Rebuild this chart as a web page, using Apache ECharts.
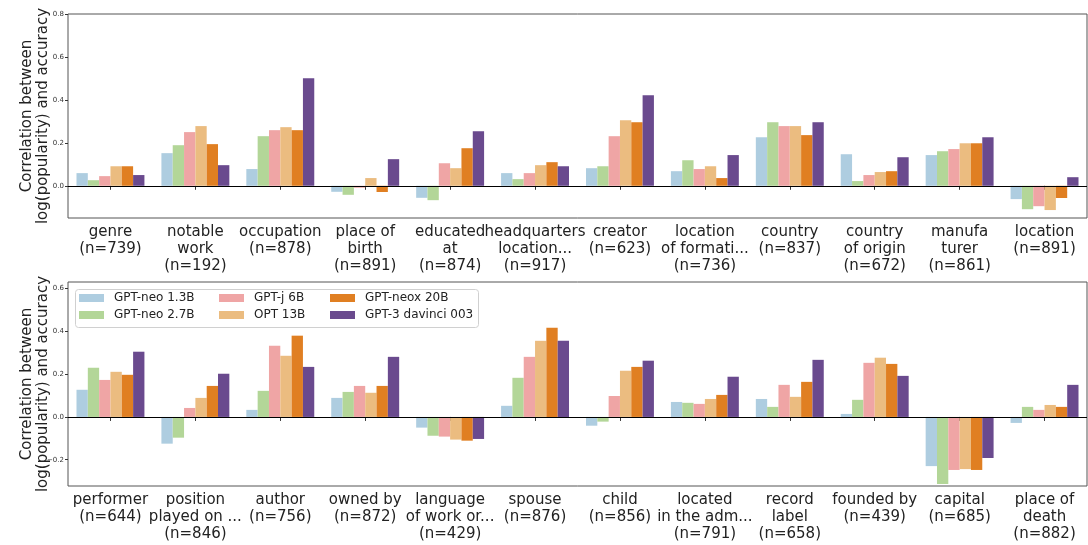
<!DOCTYPE html>
<html>
<head>
<meta charset="utf-8">
<script src="https://cdn.jsdelivr.net/npm/echarts@6/dist/echarts.min.js"></script>
<style>
  html, body { margin: 0; padding: 0; background: #fff; }
  #chart { width: 1088px; height: 545px; }
</style>
</head>
<body>
<div id="chart"></div>
<script>
// 模型名称
const models = ['GPT-neo 1.3B', 'GPT-neo 2.7B', 'GPT-j 6B', 'OPT 13B', 'GPT-neox 20B', 'GPT-3 davinci 003']
const colorList = ['#aecde0', '#b3d698', '#efa5a5', '#ebbc80', '#e07f22', '#6a4a8e']

// 上图 类别
const topCats = [
  'genre\n(n=739)', 'notable\nwork\n(n=192)', 'occupation\n(n=878)', 'place of\nbirth\n(n=891)',
  'educated\nat\n(n=874)', 'headquarters\nlocation...\n(n=917)', 'creator\n(n=623)', 'location\nof formati...\n(n=736)',
  'country\n(n=837)', 'country\nof origin\n(n=672)', 'manufa\nturer\n(n=861)', 'location\n(n=891)'
]
const topNeo13 = [0.059, 0.152, 0.078, -0.028, -0.056, 0.059, 0.082, 0.068, 0.226, 0.147, 0.143, -0.062]
const topNeo27 = [0.026, 0.189, 0.231, -0.042, -0.067, 0.031, 0.091, 0.119, 0.296, 0.022, 0.161, -0.109]
const topJ6 = [0.045, 0.250, 0.259, -0.009, 0.105, 0.059, 0.231, 0.078, 0.278, 0.050, 0.171, -0.095]
const topOpt13 = [0.091, 0.278, 0.273, 0.036, 0.082, 0.096, 0.305, 0.091, 0.278, 0.064, 0.198, -0.113]
const topNeox20 = [0.091, 0.194, 0.259, -0.029, 0.175, 0.110, 0.296, 0.036, 0.236, 0.068, 0.198, -0.057]
const topDavinci = [0.050, 0.096, 0.501, 0.124, 0.254, 0.091, 0.422, 0.143, 0.296, 0.133, 0.226, 0.040]

// 下图 类别
const botCats = [
  'performer\n(n=644)', 'position\nplayed on ...\n(n=846)', 'author\n(n=756)', 'owned by\n(n=872)',
  'language\nof work or...\n(n=429)', 'spouse\n(n=876)', 'child\n(n=856)', 'located\nin the adm...\n(n=791)',
  'record\nlabel\n(n=658)', 'founded by\n(n=439)', 'capital\n(n=685)', 'place of\ndeath\n(n=882)'
]
const botNeo13 = [0.127, -0.125, 0.033, 0.089, -0.050, 0.052, -0.041, 0.070, 0.084, 0.014, -0.230, -0.028]
const botNeo27 = [0.230, -0.097, 0.122, 0.117, -0.088, 0.183, -0.022, 0.066, 0.047, 0.080, -0.314, 0.047]
const botJ6 = [0.173, 0.042, 0.333, 0.145, -0.092, 0.281, 0.098, 0.061, 0.150, 0.253, -0.248, 0.033]
const botOpt13 = [0.211, 0.089, 0.286, 0.113, -0.106, 0.356, 0.216, 0.084, 0.094, 0.277, -0.244, 0.056]
const botNeox20 = [0.197, 0.145, 0.380, 0.145, -0.111, 0.417, 0.234, 0.103, 0.164, 0.248, -0.248, 0.047]
const botDavinci = [0.305, 0.202, 0.234, 0.281, -0.103, 0.356, 0.263, 0.188, 0.267, 0.192, -0.192, 0.150]

const topData = [topNeo13, topNeo27, topJ6, topOpt13, topNeox20, topDavinci]
const botData = [botNeo13, botNeo27, botJ6, botOpt13, botNeox20, botDavinci]

const font = 'DejaVu Sans'
const yName = 'Correlation between\nlog(popularity) and accuracy'

function xAxisOf(idx, cats) {
  return {
    type: 'category', gridIndex: idx, data: cats,
    axisLine: { show: false },
    axisTick: { show: true, alignWithLabel: true, length: 4, lineStyle: { color: '#333' } },
    axisLabel: { interval: 0, color: '#222', fontFamily: font, fontSize: 15, lineHeight: 17, margin: 6, hideOverlap: false }
  }
}
function yAxisOf(idx, min, max, ticks) {
  return {
    type: 'value', gridIndex: idx, min: min, max: max,
    name: yName, nameLocation: 'middle', nameGap: 17, nameMoveOverlap: false,
    nameTextStyle: { fontFamily: font, fontSize: 15, color: '#222', lineHeight: 16 },
    axisLine: { show: false },
    splitLine: { show: false },
    axisTick: { show: true, length: 3, customValues: ticks, lineStyle: { color: '#333' } },
    axisLabel: {
      customValues: ticks, fontFamily: font, fontSize: 7, color: '#333', margin: 4,
      formatter: v => v.toFixed(1).replace('-', '\u2212')
    }
  }
}

const series = []
;[topData, botData].forEach((group, gi) => {
  group.forEach((vals, si) => {
    const s = {
      name: models[si], type: 'bar', xAxisIndex: gi, yAxisIndex: gi,
      data: vals, barGap: '0%', barCategoryGap: '20%',
      itemStyle: { color: colorList[si] },
      silent: true
    }
    if (si === 0) {
      s.markLine = {
        silent: true, symbol: 'none', label: { show: false },
        lineStyle: { color: '#000', width: 1.2, type: 'solid' },
        data: [{ yAxis: 0 }]
      }
    }
    series.push(s)
  })
})

const legendBase = {
  orient: 'vertical', top: 292, padding: 0, itemGap: 5,
  itemWidth: 25, itemHeight: 8, icon: 'rect',
  textStyle: { fontFamily: font, fontSize: 12, color: '#222', padding: [0, 0, 0, 5] }
}

const option = {
  animation: false,
  grid: [
    { left: 68, right: 1, top: 14, height: 204, show: true, borderColor: '#555', borderWidth: 1, outerBoundsMode: 'none', containLabel: false },
    { left: 68, right: 1, top: 282, height: 204, show: true, borderColor: '#555', borderWidth: 1, outerBoundsMode: 'none', containLabel: false }
  ],
  xAxis: [xAxisOf(0, topCats), xAxisOf(1, botCats)],
  yAxis: [
    yAxisOf(0, -0.15, 0.8, [0, 0.2, 0.4, 0.6, 0.8]),
    yAxisOf(1, -0.323, 0.631, [-0.2, 0, 0.2, 0.4, 0.6])
  ],
  graphic: [{
    type: 'rect', left: 75, top: 289, z: 5,
    shape: { width: 403, height: 38, r: 3 },
    style: { fill: 'rgba(255,255,255,0.8)', stroke: '#d0d0d0', lineWidth: 1 }
  }],
  legend: [
    { ...legendBase, left: 79, data: [models[0], models[1]], z: 6 },
    { ...legendBase, left: 219, data: [models[2], models[3]], z: 6 },
    { ...legendBase, left: 330, data: [models[4], models[5]], z: 6 }
  ],
  series: series
}

const chart = echarts.init(document.getElementById('chart'))
chart.setOption(option)
</script>
</body>
</html>
